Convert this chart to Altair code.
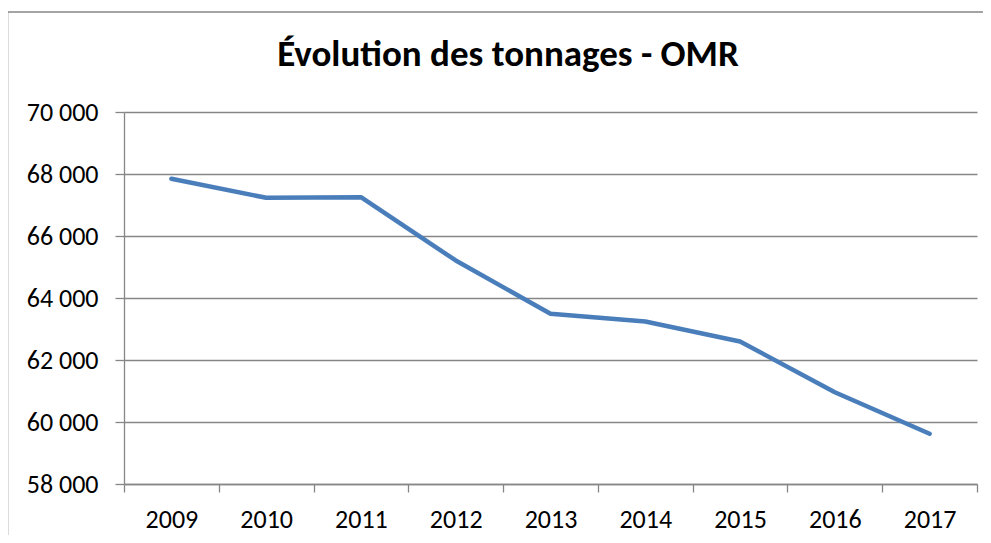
import altair as alt
import pandas as pd

years = ["2009", "2010", "2011", "2012", "2013", "2014", "2015", "2016", "2017"]
tonnages = [67845, 67232, 67252, 65210, 63490, 63242, 62597, 60961, 59619]
title_text = "Évolution des tonnages - OMR"

df = pd.DataFrame({"annee": years, "tonnage": tonnages})

FONT = "Carlito, Calibri, Lato, sans-serif"
GRAY = "#868686"

line = alt.Chart(df).mark_line(
    color="#4A7EBB", strokeWidth=4.5, strokeCap="round", strokeJoin="round"
).encode(
    x=alt.X("annee:N", sort=years, title=None,
            scale=alt.Scale(paddingInner=0, paddingOuter=0),
            axis=alt.Axis(labelAngle=0, tickBand="extent", tickSize=8,
                          tickColor=GRAY, tickWidth=1.3, domainColor=GRAY,
                          domainWidth=1.3, labelPadding=14, labelFontSize=26,
                          labelFont=FONT, labelColor="black", grid=False)),
    y=alt.Y("tonnage:Q", title=None,
            scale=alt.Scale(domain=[58000, 70000], nice=False, zero=False),
            axis=alt.Axis(values=[58000, 60000, 62000, 64000, 66000, 68000, 70000],
                          labelExpr="replace(format(datum.value, ','), ',', ' ')",
                          tickSize=9, tickColor=GRAY, tickWidth=1.3,
                          domainColor=GRAY, domainWidth=1.3,
                          gridColor=GRAY, gridWidth=1.3, grid=True,
                          labelPadding=17, labelFontSize=26, labelFont=FONT,
                          labelColor="black")),
)

title = alt.Chart(pd.DataFrame({"t": [title_text]})).mark_text(
    font=FONT, fontSize=37, fontWeight="bold", color="black",
    align="center", baseline="alphabetic"
).encode(text="t:N", x=alt.value(384), y=alt.value(-46))

border = alt.Chart(pd.DataFrame({"b": [0]})).mark_rect(
    filled=False, stroke=GRAY, strokeWidth=1.6
).encode(x=alt.value(-116.5), x2=alt.value(900), y=alt.value(-100), y2=alt.value(500))

chart = alt.layer(border, line, title).properties(
    width=853, height=372,
    autosize=alt.AutoSizeParams(type="none"),
    padding={"left": 116, "top": 104, "right": 6, "bottom": 51},
).configure_view(stroke=None)

chart.save("out.html", embed_options={"renderer": "svg", "actions": False})
